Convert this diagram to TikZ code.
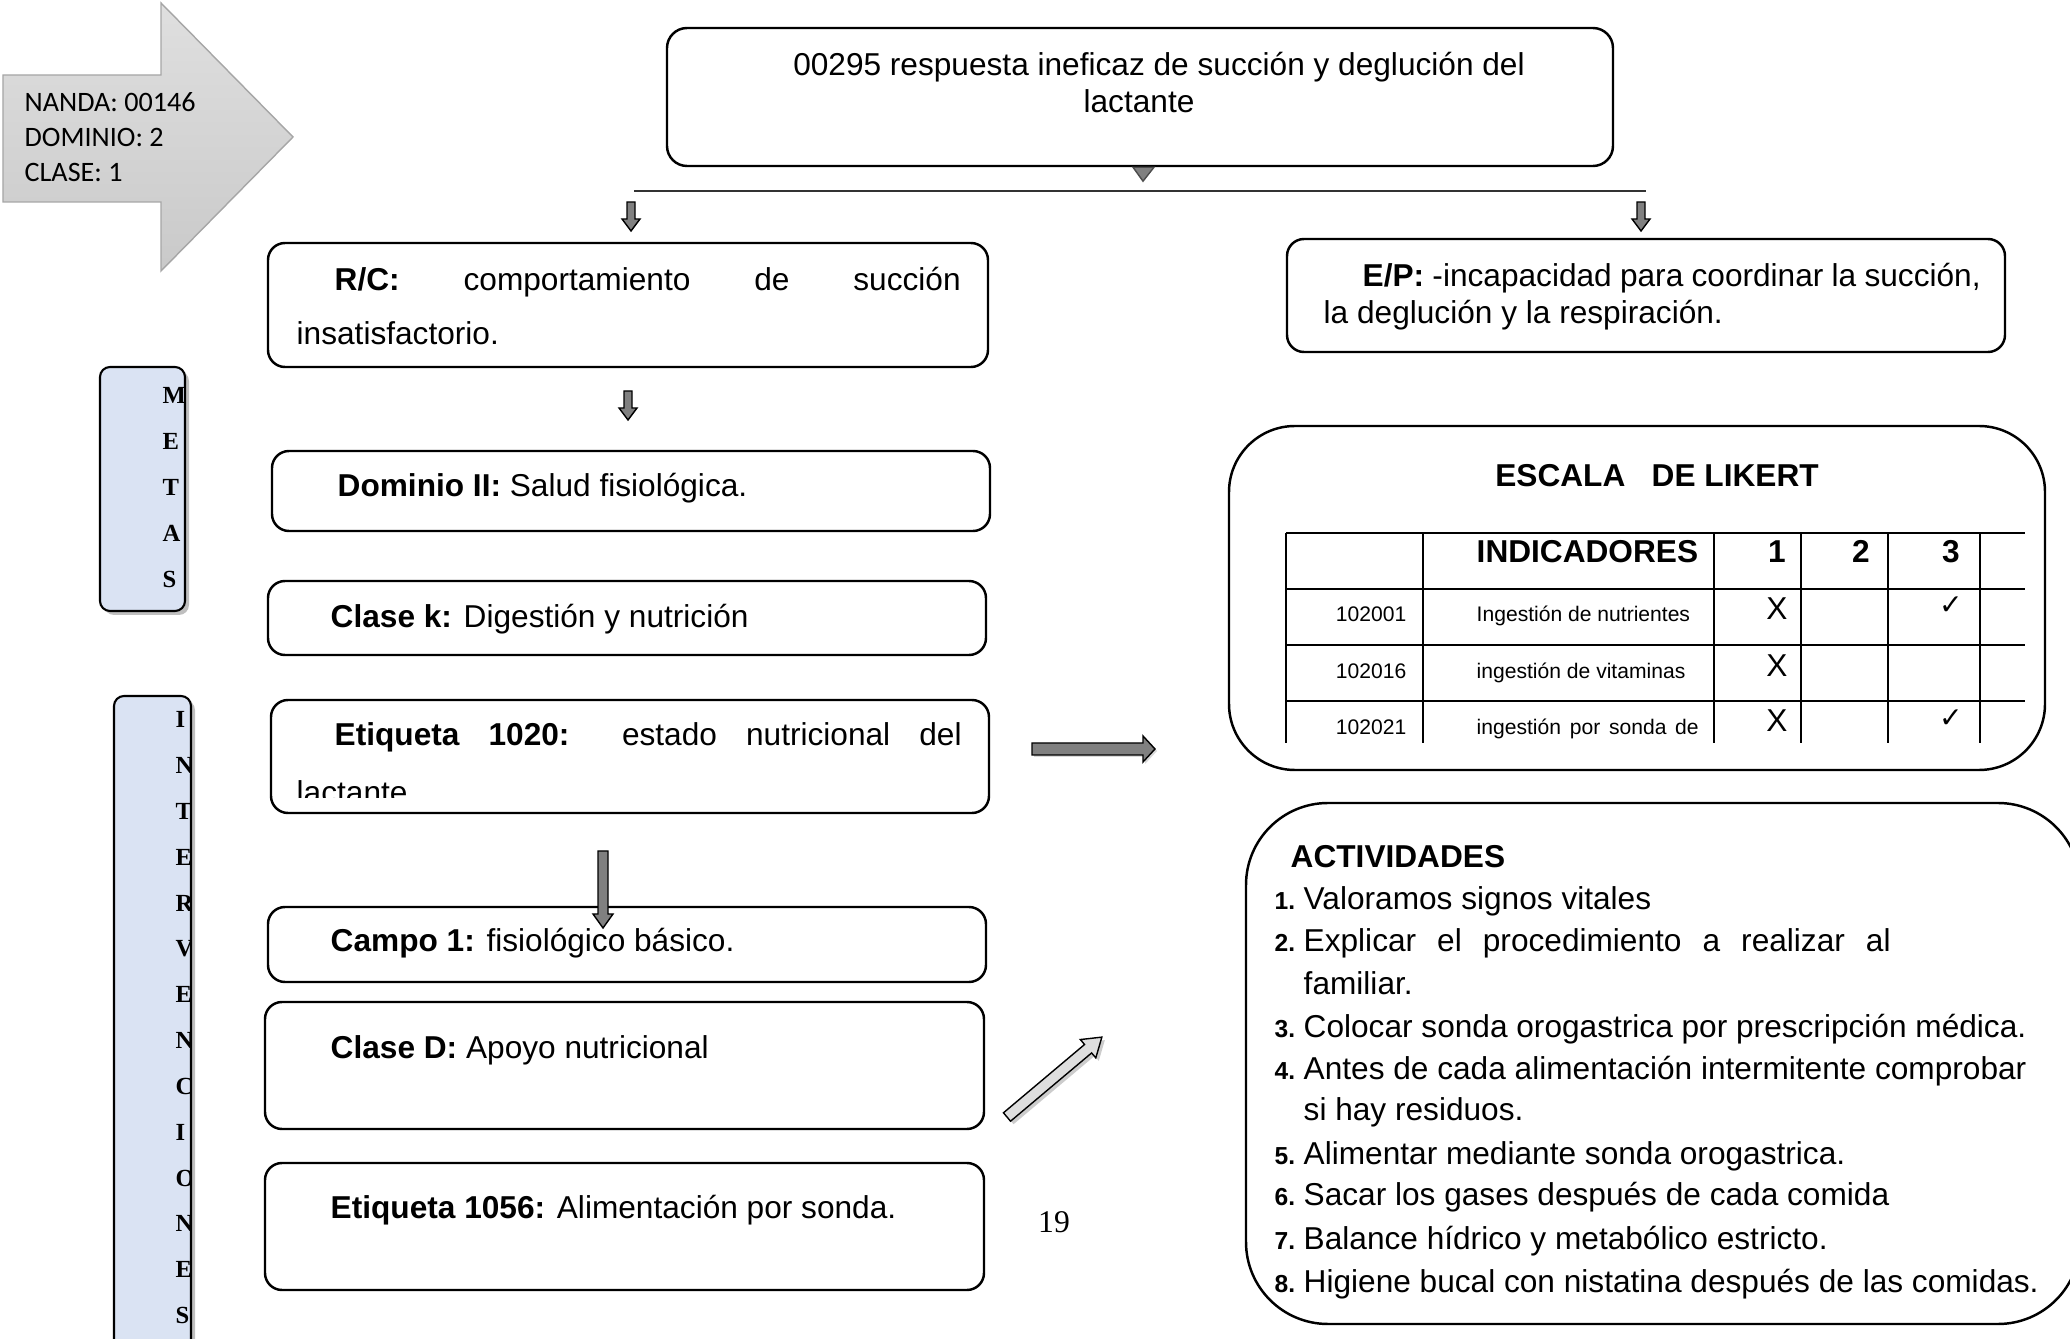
\documentclass[tikz,border=0pt]{standalone}
\usepackage{fontspec}
\setmainfont{Liberation Sans}
\newfontfamily\calfont{Carlito}
\newfontfamily\timfont{Liberation Serif}
\newfontfamily\symfont{DejaVu Sans}
\usetikzlibrary{shadows}
\definecolor{metasblue}{RGB}{218,227,243}
\definecolor{lightarrow}{RGB}{222,222,222}
\newcommand{\blkarrow}[7][]{%
  \draw[blk,#1,shift={#2},rotate=#3] (0,-#5) --++ (#4-#7,0) --++ (0,#5-#6) --++ (#7,#6) --++ (-#7,#6) --++ (0,#5-#6) --++ (#7-#4,0) -- cycle;}
\begin{document}
\begin{tikzpicture}[x=0.1mm,y=-0.1mm,
	box/.style={draw,line width=0.7pt,rounded corners=1.7mm,inner sep=0pt},
	bar/.style={draw,fill=metasblue,line width=0.6pt,rounded corners=1mm,inner sep=0pt,drop shadow={shadow xshift=.4mm,shadow yshift=-.4mm}},
	txt/.style={font=\fontsize{9}{10.5}\selectfont,anchor=base west,inner sep=0pt},
	small/.style={font=\fontsize{6}{7}\selectfont,anchor=base west,inner sep=0pt},
	numtxt/.style={font=\fontsize{7}{8}\selectfont\bfseries,anchor=base west,inner sep=0pt},
	cal/.style={font=\calfont\fontsize{8}{10}\selectfont,anchor=base west,inner sep=0pt},
	barletter/.style={font=\timfont\bfseries\fontsize{7}{8}\selectfont,anchor=base west,inner sep=0pt},
	blk/.style={draw,fill=gray,line width=0.4pt},
	tab/.style={line width=0.6pt}]
	\useasboundingbox (0,0) rectangle (2070,1339);
	\clip (0,0) rectangle (2070,1339);
	\path[draw=gray!70,top color=gray!25,bottom color=gray!42] (3,75) -- (161,75) -- (161,3) -- (293,137) -- (161,271) -- (161,202) -- (3,202) -- cycle;
	\foreach \t [count=\i from 0] in {NANDA: 00146,DOMINIO: 2,CLASE: 1} \node[cal] (l\i) at (24,112+35*\i) {\t};
	\node[box,minimum width=94.6mm,minimum height=13.8mm,rounded corners=2mm] (diag) at (1140,97) {};
	\node[txt,anchor=base] (d1) at (1159,76) {00295 respuesta ineficaz de succión y deglución del};
	\node[txt,anchor=base] (d2) at (1139,113) {lactante};
	\draw[fill=gray,draw=gray!60!black] ([xshift=-0.7mm]diag.south) --++ (21,0) --++ (-11,14) -- cycle;
	\draw[line width=0.6pt,black!80] (634,191) -- (1646,191);
	\node[box,minimum width=72mm,minimum height=12.4mm] (rc) at (628,305) {};
	\node[txt] (rc1) at (334,291) {\makebox[62.6mm][s]{\textbf{R/C:} comportamiento de succión}};
	\node[txt] (rc2) at (296,345) {insatisfactorio.};
	\node[box,minimum width=71.8mm,minimum height=11.3mm] (ep) at (1646,295.5) {};
	\node[txt] (ep1) at (1362,287) {\makebox[61.8mm][s]{\textbf{E/P:} -incapacidad para coordinar la succión,}};
	\node[txt] (ep2) at (1323,324) {la deglución y la respiración.};
	\node[bar,minimum width=8.5mm,minimum height=24.4mm] (metas) at (142.5,489) {};
	\node[bar,minimum width=7.7mm,minimum height=70.4mm] (interv) at (152.5,1048) {};
	\begin{scope}
		\clip (100,367) rectangle (184,611);
		\foreach \l [count=\i from 0] in {M,E,T,A,S} \node[barletter] (m\i) at (162,404+46*\i) {\l};
	\end{scope}
	\begin{scope}
		\clip (114,696) rectangle (190,1339);
		\foreach \l [count=\i from 0] in {I,N,T,E,R,V,E,N,C,I,O,N,E,S} \node[barletter] (v\i) at (175,728+45.8*\i) {\l};
	\end{scope}
	\node[box,minimum width=71.8mm,minimum height=8mm] (dom) at (631,491) {};
	\node[txt] (domt) at (337,497) {\textbf{Dominio II:} Salud fisiológica.};
	\node[box,minimum width=71.8mm,minimum height=7.4mm] (clk) at (627,618) {};
	\node[txt] (clkt) at (330,628) {\textbf{Clase k:} Digestión y nutrición};
	\node[box,minimum width=71.8mm,minimum height=11.3mm] (et1020) at (630,756.5) {};
	\node[txt] (et1) at (334,746) {\makebox[62.7mm][s]{\textbf{Etiqueta 1020:} estado nutricional del}};
	\begin{scope}
		\clip (280,760) rectangle (700,798);
		\node[txt] (et2) at (296,804) {lactante};
	\end{scope}
	\node[box,minimum width=71.8mm,minimum height=7.5mm] (campo) at (627,944.5) {};
	\node[txt] (campot) at (330,952) {\textbf{Campo 1:} fisiológico básico.};
	\node[box,minimum width=71.9mm,minimum height=12.7mm] (cld) at (624.5,1065.5) {};
	\node[txt] (cldt) at (330,1058) {\textbf{Clase D:} Apoyo nutricional};
	\node[box,minimum width=71.9mm,minimum height=12.7mm] (et1056) at (624.5,1226.5) {};
	\node[txt] (et1056t) at (330,1219) {\textbf{Etiqueta 1056:} Alimentación por sonda.};
	\node[font=\timfont\fontsize{9}{10}\selectfont,inner sep=0pt] (pg) at (1054,1222) {19};
	\node[box,minimum width=81.6mm,minimum height=34.4mm,rounded corners=6.6mm] (lik) at (1637,598) {};
	\node[txt,anchor=center] (likt) at (1657,476) {\textbf{ESCALA\ \ \ DE LIKERT}};
	\foreach \x in {1286,1423,1714,1801,1888,1980} \draw[tab] (\x,533) -- (\x,743);
	\foreach \y in {533,589,645,701} \draw[tab] (1286,\y) -- (2025,\y);
	\node[txt] (indh) at (1476,563) {\textbf{INDICADORES}};
	\foreach \n/\x in {1/1777,2/1861,3/1951} \node[txt,anchor=base] (h\n) at (\x,563) {\textbf{\n}};
	\foreach \c/\t/\y [count=\i] in {102001/Ingestión de nutrientes/622,102016/ingestión de vitaminas/679,102021/{\makebox[22.2mm][s]{ingestión por sonda de}}/735}
		{\node[small,anchor=base east] (code\i) at (1407,\y) {\c};
		\node[small] (ind\i) at (1476,\y) {\t};}
	\foreach \y [count=\i] in {609,666,721} \node[txt,anchor=center] (x\i) at (1777,\y) {X};
	\node[font=\symfont\fontsize{8}{9}\selectfont,inner sep=0pt] (c1) at (1951,606) {✓};
	\node[font=\symfont\fontsize{8}{9}\selectfont,inner sep=0pt] (c3) at (1951,719) {✓};
	\node[box,minimum width=83.4mm,minimum height=52.1mm,rounded corners=8.2mm] (act) at (1663,1063.5) {};
	\node[txt] (actt) at (1290,868) {\textbf{ACTIVIDADES}};
	\foreach \n/\t/\y in {1/Valoramos signos vitales/910,2/{\makebox[58.7mm][s]{Explicar el procedimiento a realizar al}}/952,3/Colocar sonda orogastrica por prescripción médica./1037,4/Antes de cada alimentación intermitente comprobar/1079,5/Alimentar mediante sonda orogastrica./1164,6/Sacar los gases después de cada comida/1206,7/Balance hídrico y metabólico estricto./1249,8/Higiene bucal con nistatina después de las comidas./1292}
		{\node[numtxt] (n\n) at (1274,\y) {\n.};
		\node[txt] (a\n) at (1303,\y) {\t};}
	\node[txt] (a2b) at (1303,995) {familiar.};
	\node[txt] (a4b) at (1303,1121) {si hay residuos.};
	\coordinate (a1) at (631,202);
	\coordinate (a2) at (1641,202);
	\coordinate (a3) at (628,391);
	\coordinate (a4) at (603,851);
	\coordinate (a5) at (1032,749);
	\coordinate (a6) at (1007,1117);
	\blkarrow{(a1)}{-90}{29}{4}{9}{12}
	\blkarrow{(a2)}{-90}{29}{4}{9}{12}
	\blkarrow{(a3)}{-90}{29}{4}{9}{12}
	\blkarrow{(a4)}{-90}{77}{5}{10}{14}
	\blkarrow[drop shadow={shadow xshift=.2mm,shadow yshift=-.2mm,opacity=.3}]{(a5)}{0}{123}{6}{13}{12}
	\blkarrow[fill=lightarrow,drop shadow={shadow xshift=.3mm,shadow yshift=-.3mm,opacity=.4}]{(a6)}{40.1}{124}{5.5}{12}{18}
\end{tikzpicture}
\end{document}
